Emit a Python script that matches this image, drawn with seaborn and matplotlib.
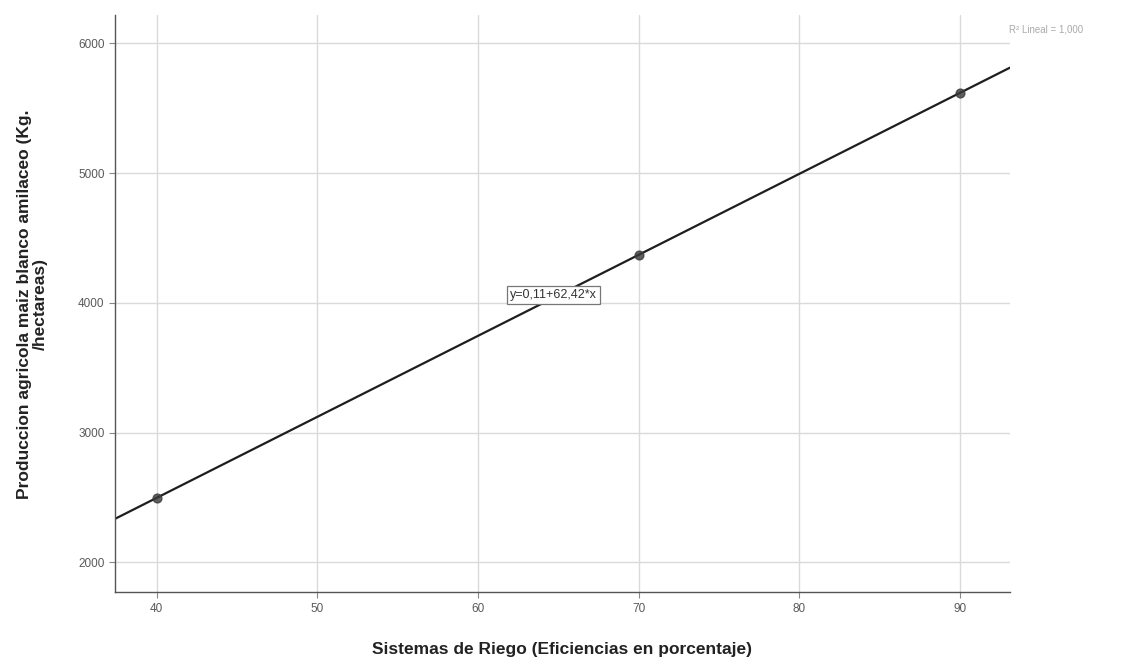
import matplotlib
matplotlib.use("Agg")
import matplotlib.pyplot as plt
import seaborn as sns
import pandas as pd

# datos
eficiencia = [40, 70, 90]
produccion = [2497, 4370, 5618]
ticks_x = [40, 50, 60, 70, 80, 90]
ticks_y = [2000, 3000, 4000, 5000, 6000]
ecuacion = "y=0,11+62,42*x"
leyenda = "R² Lineal = 1,000"

sns.set_style("white")
plt.rcParams['font.family'] = ['Liberation Sans', 'DejaVu Sans']

datos = pd.DataFrame({"x": eficiencia, "y": produccion})

fig = plt.figure(figsize=(11.27, 6.64), dpi=100)
ax = fig.add_axes([0.102, 0.108, 0.794, 0.869])
ax.set_xlim(37.4, 93.1)
ax.set_ylim(1769, 6216)

ax.grid(True, color="#dadada", linewidth=1.0)
ax.set_axisbelow(True)

sns.regplot(data=datos, x="x", y="y", ci=None, truncate=False, ax=ax,
            scatter_kws={"s": 40, "color": "#3a3a3a", "zorder": 3},
            line_kws={"color": "#1e1e1e", "linewidth": 1.6, "zorder": 2})

ax.set_xticks(ticks_x)
ax.set_yticks(ticks_y)
ax.tick_params(axis="both", labelsize=8.5, labelcolor="#5a5a5a", length=4,
               color="#888888", direction="out", bottom=True, left=True)

for lado in ["top", "right"]:
    ax.spines[lado].set_visible(False)
for lado in ["left", "bottom"]:
    ax.spines[lado].set_color("#555555")
    ax.spines[lado].set_linewidth(1.0)

ax.set_xlabel("Sistemas de Riego (Eficiencias en porcentaje)", fontsize=12.5,
              fontweight="bold", color="#222222", labelpad=20)
ax.set_ylabel("Produccion agricola maiz blanco amilaceo (Kg.\n/hectareas)",
              fontsize=12.5, fontweight="bold", color="#222222", labelpad=22,
              linespacing=1.0)

ax.text(64.7, 4058, ecuacion, fontsize=9, color="#333333", ha="center", va="center",
        zorder=4, bbox=dict(boxstyle="square,pad=0.25", facecolor="white",
                            edgecolor="#777777", linewidth=0.9))

fig.text(0.895, 0.955, leyenda, fontsize=7, color="#aaaaaa", ha="left", va="center")

fig.savefig("out.png", dpi=100)
